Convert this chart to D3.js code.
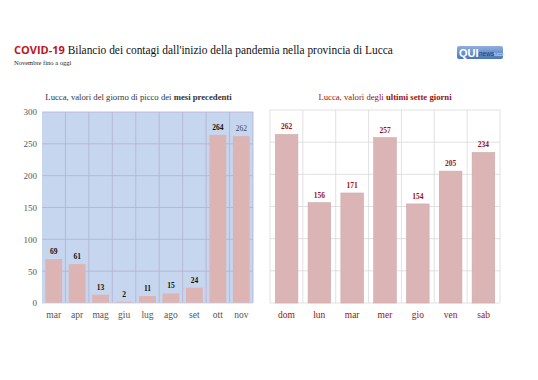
<!DOCTYPE html>
<html><head><meta charset="utf-8">
<script src="https://cdn.jsdelivr.net/npm/d3@7"></script>
<style>body{margin:0;background:#fff}svg{display:block}</style>
</head><body><svg id="c" width="538" height="380"></svg>
<script>
const monthCats = ["mar","apr","mag","giu","lug","ago","set","ott","nov"];
const monthVals = [69,61,13,2,11,15,24,264,262];
const dayCats = ["dom","lun","mar","mer","gio","ven","sab"];
const dayVals = [262,156,171,257,154,205,234];
const yTicks = [0,50,100,150,200,250,300];

const svg = d3.select("#c");
const serif = "'Liberation Serif','DejaVu Serif',serif";

// Title
const t = svg.append("text").attr("x",14).attr("y",54).attr("font-family",serif).attr("font-size",13).attr("fill","#111");
t.append("tspan").attr("font-family","'Open Sans','Liberation Sans',sans-serif").attr("font-weight","bold").attr("fill","#c0141b").attr("font-size",11).text("COVID-19");
t.append("tspan").attr("textLength",328).attr("lengthAdjust","spacingAndGlyphs").text(" Bilancio dei contagi dall'inizio della pandemia nella provincia di Lucca");
svg.append("text").attr("x",14).attr("y",65).attr("font-family",serif).attr("font-size",6.5).attr("fill","#222").text("Novembre fino a oggi");

// Logo
const lg = svg.append("g").attr("transform","translate(457,46)");
const grad = svg.append("defs").append("linearGradient").attr("id","lgg").attr("x1",0).attr("y1",0).attr("x2",0).attr("y2",1);
grad.append("stop").attr("offset","0").attr("stop-color","#8fb0dc");
grad.append("stop").attr("offset","1").attr("stop-color","#4a76b8");
lg.append("rect").attr("width",46).attr("height",13).attr("rx",2).attr("fill","url(#lgg)");
lg.append("text").attr("x",2).attr("y",10.5).attr("font-family","'Liberation Sans',sans-serif").attr("font-weight","bold").attr("font-size",11).attr("fill","#fff").text("QUI");
lg.append("text").attr("x",22).attr("y",10).attr("font-family","'Liberation Sans',sans-serif").attr("font-size",6.5).attr("fill","#1d3f78").text("news");
lg.append("text").attr("x",37).attr("y",10).attr("font-family","'Liberation Sans',sans-serif").attr("font-size",4.5).attr("fill","#dbe6f5").text("lucca");

// Left panel
const y1 = d3.scaleLinear().domain([0,300]).range([303,112]);
const x1 = d3.scaleBand().domain(monthCats).range([42,253]).paddingInner(0.28).paddingOuter(0.14);
const xg1 = d3.scaleBand().domain(monthCats).range([42,253]);
const L = svg.append("g");
L.append("rect").attr("x",42).attr("y",112).attr("width",211).attr("height",191).attr("fill","#c6d6ef");
L.selectAll("line.h").data(yTicks.slice(1)).join("line")
 .attr("x1",42).attr("x2",253).attr("y1",d=>y1(d)).attr("y2",d=>y1(d)).attr("stroke","#b6aed2").attr("stroke-width",0.8);
L.selectAll("line.v").data(monthCats).join("line")
 .attr("x1",d=>xg1(d)+xg1.bandwidth()).attr("x2",d=>xg1(d)+xg1.bandwidth()).attr("y1",112).attr("y2",303).attr("stroke","#b6aed2").attr("stroke-width",0.8);
L.selectAll("rect.b").data(monthVals).join("rect")
 .attr("x",(d,i)=>x1(monthCats[i])).attr("width",x1.bandwidth())
 .attr("y",d=>y1(d)).attr("height",d=>303-y1(d)).attr("fill","#dcb4b4");
L.append("line").attr("x1",42).attr("x2",253).attr("y1",303).attr("y2",303).attr("stroke","#c9c9d6").attr("stroke-width",0.8);
L.selectAll("text.v").data(monthVals).join("text")
 .attr("x",(d,i)=>x1(monthCats[i])+x1.bandwidth()/2).attr("y",d=>y1(d)-5)
 .attr("text-anchor","middle").attr("font-family",serif).attr("font-size",7.5)
 .attr("font-weight",(d,i)=>i===8?"normal":"bold").attr("fill",(d,i)=>i===8?"#444":"#111").text(d=>d);
const ya = d3.axisLeft(y1).tickValues(yTicks).tickSize(0).tickPadding(5);
const yg = svg.append("g").attr("transform","translate(42,0)").call(ya);
yg.select(".domain").remove();
yg.selectAll("text").attr("font-family",serif).attr("font-size",9).attr("fill","#555");
const xa1 = d3.axisBottom(xg1).tickSize(0).tickPadding(8);
const xg1g = svg.append("g").attr("transform","translate(0,303)").call(xa1);
xg1g.select(".domain").remove();
xg1g.selectAll("text").attr("font-family",serif).attr("font-size",9.5).attr("fill","#555");
const lt = svg.append("text").attr("x",138.5).attr("y",100).attr("text-anchor","middle").attr("font-family",serif).attr("font-size",8.7).attr("fill","#333");
lt.append("tspan").text("Lucca, valori del giorno di picco dei ");
lt.append("tspan").attr("font-weight","bold").text("mesi precedenti");

// Right panel
const y2 = d3.scaleLinear().domain([0,300]).range([303,110]);
const xg2 = d3.scaleBand().domain(dayCats).range([270,500]);
const x2 = d3.scaleBand().domain(dayCats).range([270,500]).paddingInner(0.31).paddingOuter(0.16);
const R = svg.append("g");
R.selectAll("line.h").data(yTicks).join("line")
 .attr("x1",270).attr("x2",500).attr("y1",d=>y2(d)).attr("y2",d=>y2(d)).attr("stroke","#d9d9d9").attr("stroke-width",0.8);
R.selectAll("line.v").data([null].concat(dayCats)).join("line")
 .attr("x1",d=>d===null?270:xg2(d)+xg2.bandwidth()).attr("x2",d=>d===null?270:xg2(d)+xg2.bandwidth())
 .attr("y1",110).attr("y2",303).attr("stroke","#d9d9d9").attr("stroke-width",0.8);
R.selectAll("rect.b").data(dayVals).join("rect")
 .attr("x",(d,i)=>x2(dayCats[i])).attr("width",x2.bandwidth())
 .attr("y",d=>y2(d)).attr("height",d=>303-y2(d)).attr("fill","#dbb5b5").attr("stroke","#ccaaaa").attr("stroke-width",0.6);
R.selectAll("text.v").data(dayVals).join("text")
 .attr("x",(d,i)=>x2(dayCats[i])+x2.bandwidth()/2).attr("y",d=>y2(d)-5)
 .attr("text-anchor","middle").attr("font-family",serif).attr("font-size",7.5).attr("font-weight","bold").attr("fill","#a01010").text(d=>d);
const xa2 = d3.axisBottom(xg2).tickSize(0).tickPadding(8);
const xg2g = svg.append("g").attr("transform","translate(0,303)").call(xa2);
xg2g.select(".domain").remove();
xg2g.selectAll("text").attr("font-family",serif).attr("font-size",9.5).attr("fill","#a01010");
const rt = svg.append("text").attr("x",385).attr("y",100).attr("text-anchor","middle").attr("font-family",serif).attr("font-size",8.7).attr("fill","#9a0f0f");
rt.append("tspan").text("Lucca, valori degli ");
rt.append("tspan").attr("font-weight","bold").text("ultimi sette giorni");
</script></body></html>
